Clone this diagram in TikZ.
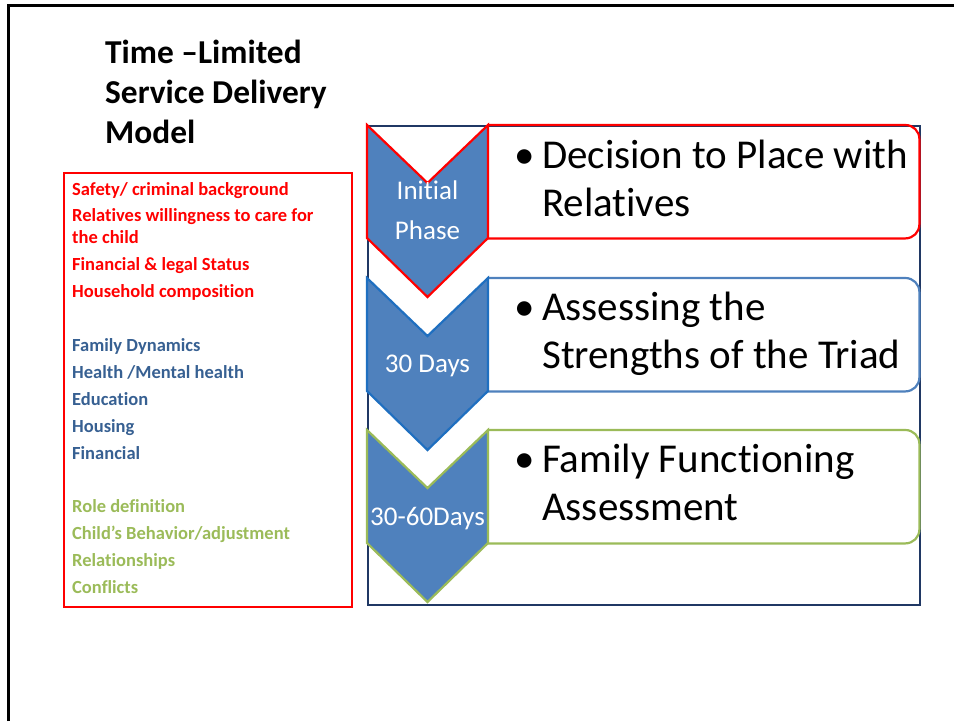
\documentclass[tikz,border=0pt]{standalone}
\usepackage{fontspec}
\setmainfont{Carlito}[Ligatures=NoCommon]
\usepackage{tikz}
\usetikzlibrary{positioning}

\definecolor{phasefill}{HTML}{4F81BD}
\definecolor{phasered}{HTML}{FF0000}
\definecolor{phaseblue}{HTML}{1F6FC0}
\definecolor{boxblue}{HTML}{4F81BD}
\definecolor{phasegreen}{HTML}{9BBB59}
\definecolor{listblue}{HTML}{376092}
\definecolor{framenavy}{HTML}{203864}

\begin{document}
\begin{tikzpicture}[x=1pt,y=-1pt,
                    chevron/.style={fill=phasefill,line width=2.2pt,line join=miter},
                    stepbox/.style={line width=2.2pt,rounded corners=14pt},
                    phase/.style={text=white,font=\fontsize{27}{40}\selectfont,align=center,inner sep=0pt,anchor=base},
                    item/.style={font=\fontsize{41}{48}\selectfont,align=left,anchor=base west,inner sep=0pt},
                    factor/.style={font=\bfseries\fontsize{18.5}{21.5}\selectfont,align=left,anchor=base west,inner sep=0pt}]
  \useasboundingbox (0,0) rectangle (954,721);
%  slide frame
  \draw[line width=3pt] (8,721) -- (8,5) -- (954,5);

%  anchors of the text nodes are on the baseline of their last line
  \node[anchor=base west,inner sep=0pt,align=left,font=\bfseries\fontsize{33.4}{40}\selectfont]
        (title) at (105,143) {Time –Limited\\Service Delivery\\Model};

  \node[draw=phasered,line width=1.5pt,anchor=north west,inner sep=0pt,
        minimum width=288,minimum height=434] (factors) at (63,172) {};
  \node[factor,text=phasered]   (F1) at (72,297) {Safety/ criminal background\\[5.3pt]
        Relatives willingness to care for\\the child\\[5.3pt]Financial \& legal Status\\[5.3pt]
        Household composition};
  \node[factor,text=listblue]   (F2) at (72,459) {Family Dynamics\\[5.3pt]Health /Mental health\\[5.3pt]
        Education\\[5.3pt]Housing\\[5.3pt]Financial};
  \node[factor,text=phasegreen] (F3) at (72,593) {Role definition\\[5.3pt]Child’s Behavior/adjustment\\[5.3pt]
        Relationships\\[5.3pt]Conflicts};

  \node[draw=framenavy,line width=1.5pt,anchor=north west,inner sep=0pt,
        minimum width=552,minimum height=479] (stages) at (367,125) {};

  \node[anchor=north west,inner sep=0pt,minimum width=431,minimum height=113] (B1) at (488,125) {};
  \node[anchor=north west,inner sep=0pt,minimum width=431,minimum height=113] (B2) at (488,278) {};
  \node[anchor=north west,inner sep=0pt,minimum width=431,minimum height=113] (B3) at (488,430) {};
  \draw[stepbox,draw=phasered]   (B1.north west) -- (B1.north east) -- (B1.south east) -- (B1.south west);
  \draw[stepbox,draw=boxblue]    (B2.north west) -- (B2.north east) -- (B2.south east) -- (B2.south west);
  \draw[stepbox,draw=phasegreen] (B3.north west) -- (B3.north east) -- (B3.south east) -- (B3.south west);

  \draw[chevron,draw=phasered]   (367,125) -- (427.5,183) -- (488,125) -- (488,238) -- (427.5,297) -- (367,238) -- cycle;
  \draw[chevron,draw=phaseblue]  (367,278) -- (427.5,336) -- (488,278) -- (488,391) -- (427.5,450) -- (367,391) -- cycle;
  \draw[chevron,draw=phasegreen] (367,430) -- (427.5,488) -- (488,430) -- (488,543) -- (427.5,602) -- (367,543) -- cycle;

  \node[phase] (P1) at (427.5,239) {Initial\\Phase};
  \node[phase] (P2) at (427.5,372) {30 Days};
  \node[phase] (P3) at (427.5,525) {30-60Days};

  \node[item] (T1) at (514,216) {\makebox[28pt][l]{\textbullet}Decision to Place with\\\hspace*{28pt}Relatives};
  \node[item] (T2) at (514,368) {\makebox[28pt][l]{\textbullet}Assessing the\\\hspace*{28pt}Strengths of the Triad};
  \node[item] (T3) at (514,520) {\makebox[28pt][l]{\textbullet}Family Functioning\\\hspace*{28pt}Assessment};
\end{tikzpicture}
\end{document}
